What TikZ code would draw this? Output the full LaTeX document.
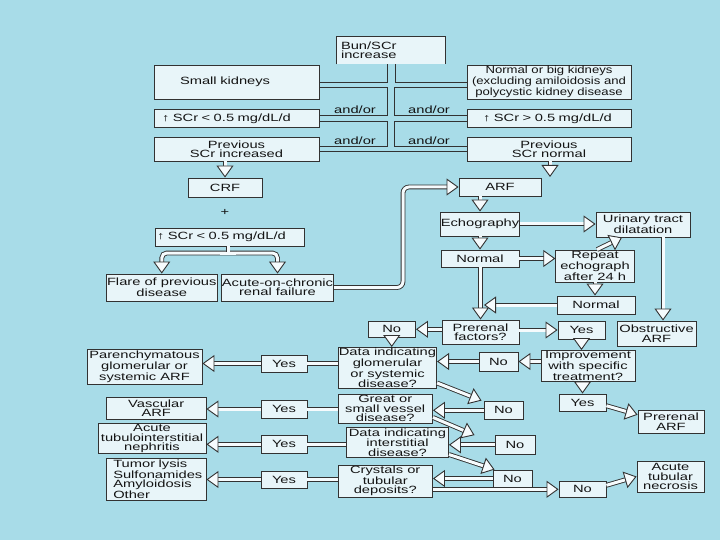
\documentclass[tikz,border=0pt]{standalone}
\usepackage{fontspec}
\setmainfont{Liberation Sans}[FakeStretch=1.4]
\newfontfamily\narrowfont{Liberation Sans}[FakeStretch=1.25]
\usetikzlibrary{arrows.meta}
\definecolor{bgblue}{RGB}{168,220,232}
\definecolor{boxfill}{RGB}{232,245,249}
\definecolor{boxline}{RGB}{50,50,50}
\definecolor{pipefill}{RGB}{246,251,253}
\definecolor{ink}{RGB}{20,20,20}
\tikzset{
    box/.style={draw=boxline, fill=boxfill, line width=0.9pt, inner sep=0.5pt, align=center, text=ink},
    sz/.style 2 args={minimum width=#1pt, minimum height=#2pt},
    lbl/.style={inner sep=0pt, text=ink},
    tree/.style={draw=boxline, line width=0.9pt},
    bigtip/.tip={Triangle[fill=pipefill, length=12pt, width=17pt, line width=0.9pt]},
    pipe/.style={draw=boxline, line width=0.9pt, double=pipefill, double distance=3pt},
    hollow/.style={pipe, -bigtip},
}
\begin{document}
\begin{tikzpicture}[x=1pt, y=-1pt, font=\fontsize{10.5}{9.4}\selectfont]
    \fill[bgblue] (0,0) rectangle (720,540);

    % top: the two columns of findings
    \node[box, sz={108}{27}, draw=none, text width=100pt, align=left] (bun) at (391,50.5) {Bun/SCr\\increase};
    \draw[tree] (bun.south west) |- (bun.north east) -- (bun.south east);
    \node[box, sz={165}{34}, text width=113pt, align=left] (smallk) at (236.5,82) {Small kidneys};
    \node[box, sz={164}{34}, font=\narrowfont\fontsize{10.5}{9.4}\selectfont] (bigk) at (549,82) {Normal or big kidneys\\(excluding amiloidosis and\\polycystic kidney disease};
    \node[box, sz={165}{18}, text width=149pt, align=left] (scrlow) at (236.5,118.5) {↑ SCr < 0.5 mg/dL/d};
    \node[box, sz={164}{18}, text width=132pt, align=left] (scrhigh) at (549,118.5) {↑ SCr > 0.5 mg/dL/d};
    \node[box, sz={165}{24}] (previnc) at (236.5,149) {Previous\\SCr increased};
    \node[box, sz={164}{24}] (prevnorm) at (549,149) {Previous\\SCr normal};

    \draw[tree] (smallk.east) -| ([xshift=-4pt]bun.south);
    \draw[tree] ([yshift=-5pt]smallk.east) -- ++(68,0) |- ([yshift=3.5pt]scrlow.east);
    \draw[tree] ([yshift=-3pt]scrlow.east) -- ++(68,0) |- ([yshift=2.3pt]previnc.east);
    \draw[tree] (bigk.west) -| ([xshift=4pt]bun.south);
    \draw[tree] ([yshift=-5pt]bigk.west) -- ++(-72,0) |- ([yshift=3.5pt]scrhigh.west);
    \draw[tree] ([yshift=-3pt]scrhigh.west) -- ++(-72,0) |- ([yshift=2.3pt]prevnorm.west);
    \draw[tree] ([yshift=-2.7pt]previnc.east) -- ([yshift=-2.7pt]prevnorm.west);
    \foreach \x/\y/\n in {355/110/aoA, 355/140.5/aoB, 429/110/aoC, 429/140.5/aoD}
        \node[lbl] (\n) at (\x,\y) {and/or};

    % chronic side
    \node[box, sz={74}{19}] (crf) at (225,187.5) {CRF};
    \node[lbl] (plus) at (225,212) {+};
    \node[box, sz={149}{18}, text width=145pt, align=left] (scrcrf) at (229.5,237) {↑ SCr < 0.5 mg/dL/d};
    \node[box, sz={110.5}{27}] (flare) at (161.75,287.5) {Flare of previous\\disease};
    \node[box, sz={111}{27}] (acute) at (277.5,287.5) {Acute-on-chronic\\renal failure};

    % acute side
    \node[box, sz={82}{18}] (arf) at (500,187) {ARF};
    \node[box, sz={78}{24}] (echo) at (480,224) {Echography};
    \node[box, sz={94}{25}] (utd) at (643,224.5) {Urinary tract\\dilatation};
    \node[box, sz={78}{17}] (normA) at (480,258.5) {Normal};
    \node[box, sz={78.5}{32}] (repeat) at (595,266) {Repeat\\echograph\\after 24 h};
    \node[box, sz={78}{18}] (normB) at (596,305) {Normal};
    \node[box, sz={77}{24}] (prerenal) at (480.5,332) {Prerenal\\factors?};
    \node[box, sz={47.5}{16.5}] (noA) at (391.75,329.25) {No};
    \node[box, sz={47}{18}] (yesA) at (581.5,330) {Yes};
    \node[box, sz={79}{25}] (obstr) at (656.5,333.5) {Obstructive\\ARF};

    % questions and outcomes
    \node[box, sz={97}{40}] (dataglom) at (387.5,368) {Data indicating\\glomerular\\or systemic\\disease?};
    \node[box, sz={39}{19}] (noB) at (498.5,361.5) {No};
    \node[box, sz={94}{31}] (improve) at (588,366) {Improvement\\with specific\\treatment?};
    \node[box, sz={46}{17}] (yesB) at (284,363.5) {Yes};
    \node[box, sz={115}{34.5}] (parench) at (144.5,366.75) {Parenchymatous\\glomerular or\\systemic ARF};
    \node[box, sz={94.5}{29}] (vessel) at (385.25,408.5) {Great or\\small vessel\\disease?};
    \node[box, sz={39}{18.5}] (noC) at (503.5,410.25) {No};
    \node[box, sz={46}{18}] (yesC) at (284,409) {Yes};
    \node[box, sz={99.5}{22.5}] (vasc) at (156.25,408.25) {Vascular\\ARF};
    \node[box, sz={47}{17.5}] (yesD) at (582.5,402.75) {Yes};
    \node[box, sz={66}{22.5}] (prerenalarf) at (671,421.75) {Prerenal\\ARF};
    \node[box, sz={102}{29.3}] (interst) at (397.5,442.4) {Data indicating\\interstitial\\disease?};
    \node[box, sz={40}{18.4}] (noD) at (515,444.8) {No};
    \node[box, sz={46}{17.4}] (yesE) at (284,444.3) {Yes};
    \node[box, sz={108}{29}] (atin) at (152,438.5) {Acute\\tubulointerstitial\\nephritis};
    \node[box, sz={94.5}{32}] (crystals) at (385.25,481) {Crystals or\\tubular\\deposits?};
    \node[box, sz={39}{17}] (noE) at (512.5,478.5) {No};
    \node[box, sz={46}{17}] (yesF) at (284,479.5) {Yes};
    \node[box, sz={99.5}{42}, text width=86pt, align=left] (tumor) at (156.25,479) {Tumor lysis\\Sulfonamides\\Amyloidosis\\Other};
    \node[box, sz={47}{16.6}] (noF) at (582.5,489.3) {No};
    \node[box, sz={67}{31}] (atn) at (670.5,476.5) {Acute\\tubular\\necrosis};

    % hollow arrows
    \draw[hollow] (crf.north |- previnc.south) -- (crf.north);
    \coordinate (arfin) at (550,177);
    \draw[hollow] (arfin |- prevnorm.south) -- (arfin);
    \coordinate (fork) at (228,253);
    \draw[pipe, rounded corners=5pt, bigtip-bigtip] (flare.north) |- (fork) -| (acute.north);
    \draw[pipe] (scrcrf.south -| fork) -- (fork);
    \draw[pipefill, line width=3pt] (fork) ++(-8,0) -- ++(16,0);
    \coordinate (bend) at (403,240);
    \draw[hollow, rounded corners=6pt] (acute.east) -| (bend) |- (arf.west);

    \draw[hollow] (echo.north |- arf.south) -- (echo.north);
    \draw[hollow] (echo.east) -- (echo.east -| utd.west);
    \draw[hollow] (echo.south) -- (normA.north);
    \draw[hollow] (normA.east) -- (normA.east -| repeat.west);
    \draw[hollow] ([xshift=2pt]repeat.north) -- ([xshift=-21pt]utd.south);
    \draw[hollow] (repeat.south) -- (repeat.south |- normB.north);
    \draw[hollow] (prerenal.north |- normA.south) -- (prerenal.north);
    \coordinate (pipeR) at ([xshift=4pt]normA.south);
    \draw[hollow] (normB.west) -- (pipeR |- normB.west);
    \coordinate (obsin) at ([xshift=20pt]utd.south);
    \draw[hollow] (obsin) -- (obsin |- obstr.north);

    \draw[hollow] (prerenal.west |- noA.east) -- (noA.east);
    \draw[hollow] (prerenal.east |- yesA.west) -- (yesA.west);
    \draw[hollow] (noA.south) -- (noA.south |- dataglom.north);
    \draw[hollow] (yesA.south) -- (yesA.south |- improve.north);
    \draw[hollow] (improve.west |- noB.east) -- (noB.east);
    \draw[hollow] (yesD.north |- improve.south) -- (yesD.north);
    \draw[hollow] ([yshift=-3pt]yesD.east) -- ([yshift=7pt]prerenalarf.west);

    % left column: findings to diagnoses
    \foreach \q/\y/\dg in {dataglom/yesB/parench, vessel/yesC/vasc, interst/yesE/atin, crystals/yesF/tumor} {
        \draw[pipe] (\q.west |- \y.east) -- (\y.east);
        \draw[hollow] (\y.west) -- (\y.west -| \dg.east);
    }
    \foreach \n/\q in {noB/dataglom, noC/vessel, noD/interst, noE/crystals}
        \draw[hollow] (\n.west) -- (\n.west -| \q.east);
    \draw[hollow] ([yshift=6pt]dataglom.south east) -- ([xshift=-2pt]noC.north west);
    \draw[hollow] ([yshift=6pt]vessel.south east) -- ([xshift=-20pt]noD.north west);
    \draw[hollow] ([yshift=3pt]interst.south east) -- ([xshift=2pt]noE.north west);
    \draw[hollow] (crystals.east |- noF.west) -- (noF.west);
    \draw[hollow] ([yshift=4pt]noF.east) -- (atn.west);
\end{tikzpicture}
\end{document}
